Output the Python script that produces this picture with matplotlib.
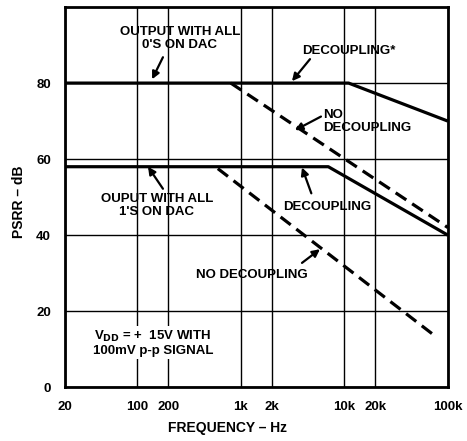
import matplotlib.pyplot as plt

plt.rcParams['font.family'] = ['Liberation Sans', 'DejaVu Sans']
plt.rcParams['font.weight'] = 'bold'

# ---- data (freq in Hz, PSRR in dB) ----
zeros_dec_f = [20, 11000, 100000]
zeros_dec_db = [80, 80, 70]
zeros_nodec_f = [800, 100000]
zeros_nodec_db = [80, 42]
ones_dec_f = [20, 7000, 100000]
ones_dec_db = [58, 58, 40]
ones_nodec_f = [600, 75000]
ones_nodec_db = [57.5, 13.5]

x_ticks = [20, 100, 200, 1000, 2000, 10000, 20000, 100000]
x_tick_labels = ['20', '100', '200', '1k', '2k', '10k', '20k', '100k']
y_ticks = [0, 20, 40, 60, 80]

fig = plt.figure(figsize=(4.67, 4.41), dpi=100)
ax = fig.add_axes([0.139, 0.122, 0.82, 0.862])

ax.set_xscale('log')
ax.set_xlim(20, 100000)
ax.set_ylim(0, 100)
ax.set_xticks(x_ticks)
ax.set_xticklabels(x_tick_labels)
ax.set_yticks(y_ticks)
ax.minorticks_off()
ax.tick_params(length=0, labelsize=9.5, pad=10)
for lbl in ax.get_xticklabels() + ax.get_yticklabels():
   lbl.set_fontweight('bold')
ax.grid(True, color='black', lw=1.0)
for s in ax.spines.values():
   s.set_linewidth(2.0)

# curves
lw = 2.3
ax.plot(zeros_dec_f, zeros_dec_db, color='black', lw=lw, solid_capstyle='butt')
ax.plot(zeros_nodec_f, zeros_nodec_db, color='black', lw=lw, dashes=(4, 2.2))
ax.plot(ones_dec_f, ones_dec_db, color='black', lw=lw, solid_capstyle='butt')
ax.plot(ones_nodec_f, ones_nodec_db, color='black', lw=lw, dashes=(4, 2.2))

# annotations
arr = dict(arrowstyle='-|>', color='black', lw=1.6, mutation_scale=11, shrinkA=0, shrinkB=0)
fs = 9.5
ax.text(258, 91.7, "OUTPUT WITH ALL\n0'S ON DAC", ha='center', va='center', fontsize=fs, linespacing=1.05)
ax.annotate('', xy=(139, 81), xytext=(177, 86.8), arrowprops=arr)

ax.text(11100, 88.4, 'DECOUPLING*', ha='center', va='center', fontsize=fs)
ax.annotate('', xy=(3120, 80.5), xytext=(4660, 86.3), arrowprops=arr)

ax.text(6300, 70, 'NO\nDECOUPLING', ha='left', va='center', fontsize=fs, linespacing=1.1)
ax.annotate('', xy=(3340, 67.6), xytext=(5950, 71.2), arrowprops=arr)

ax.text(6800, 47.5, 'DECOUPLING', ha='center', va='center', fontsize=fs)
ax.annotate('', xy=(3900, 57.8), xytext=(4800, 51), arrowprops=arr)

ax.text(155, 47.8, "OUPUT WITH ALL\n1'S ON DAC", ha='center', va='center', fontsize=fs, linespacing=1.05)
ax.annotate('', xy=(127, 58), xytext=(177, 52.2), arrowprops=arr)

ax.text(1280, 29.6, 'NO DECOUPLING', ha='center', va='center', fontsize=fs)
ax.annotate('', xy=(5820, 36.3), xytext=(3900, 32.7), arrowprops=arr)

ax.text(142, 11.6, 'V$_{\\mathbf{DD}}$ = +  15V WITH\n100mV p-p SIGNAL', ha='center', va='center',
        fontsize=fs, linespacing=1.15, bbox=dict(facecolor='white', edgecolor='none', pad=1))

fig.text(228 / 467, 1 - 428 / 441, 'FREQUENCY – Hz', ha='center', va='center', fontsize=10, fontweight='bold')
fig.text(19 / 467, 1 - 202 / 441, 'PSRR – dB', ha='center', va='center', fontsize=10, fontweight='bold', rotation=90)

fig.savefig('out.png', dpi=100)
